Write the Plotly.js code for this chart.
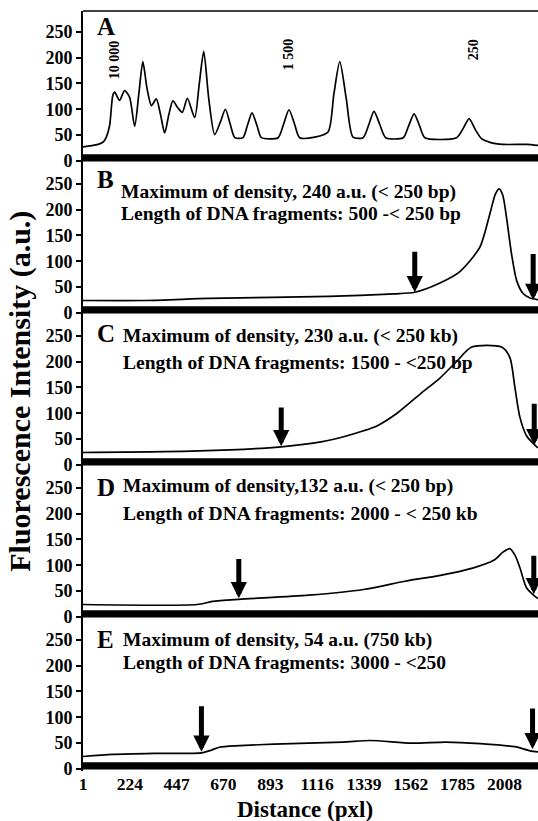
<!DOCTYPE html>
<html>
<head>
<meta charset="utf-8">
<script src="https://cdn.plot.ly/plotly-3.0.1.min.js"></script>
<style>html,body{margin:0;padding:0;background:#fff;}</style>
</head>
<body>
<div id="chart" style="width:538px;height:821px;"></div>
<script>
// ---- data ----
const xTickVals = [1, 224, 447, 670, 893, 1116, 1339, 1562, 1785, 2008];
const yTickVals = [0, 50, 100, 150, 200, 250];

const aX = [1, 50, 80, 100, 112, 128, 143, 152, 175, 199, 223, 247, 267, 286, 306, 327, 350, 370, 390, 410, 429, 452, 474, 498, 533, 555, 576, 600, 628, 655, 679, 703, 724, 763, 785, 806, 830, 851, 930, 957, 982, 1008, 1033, 1105, 1168, 1196, 1224, 1255, 1287, 1335, 1362, 1387, 1415, 1443, 1526, 1552, 1578, 1604, 1629, 1780, 1812, 1840, 1870, 1899, 1939, 2002, 2114, 2168];
const aY = [27, 30, 33, 38, 46, 69, 127, 133, 117, 136, 123, 67, 130, 192, 140, 107, 120, 90, 54, 90, 116, 103, 94, 121, 84, 150, 212, 120, 51, 75, 100, 70, 45, 45, 70, 93, 68, 45, 45, 72, 99, 72, 45, 46, 56, 130, 192, 120, 46, 45, 70, 96, 70, 45, 45, 68, 91, 68, 45, 45, 63, 82, 60, 43, 36, 32, 32, 30];

const bX = [1, 300, 600, 900, 1172, 1484, 1581, 1701, 1796, 1891, 1939, 1965, 1983, 2000, 2018, 2042, 2066, 2098, 2130, 2162, 2168];
const bY = [24, 24, 28, 30, 32, 37, 40, 58, 80, 127, 192, 230, 240, 228, 185, 114, 63, 37, 29, 26, 25];

const cX = [1, 552, 945, 1141, 1238, 1337, 1403, 1500, 1615, 1701, 1780, 1852, 1995, 2034, 2058, 2082, 2114, 2162, 2168];
const cY = [24, 27, 35, 45, 54, 66, 76, 101, 140, 168, 200, 228, 228, 208, 150, 92, 56, 35, 33];

const dX = [1, 544, 618, 743, 1076, 1337, 1534, 1697, 1861, 1959, 2000, 2034, 2060, 2082, 2114, 2162, 2168];
const dY = [24, 24, 30, 34, 42, 53, 69, 80, 95, 110, 125, 132, 118, 95, 56, 37, 36];

const eX = [1, 142, 337, 565, 610, 650, 747, 912, 1238, 1370, 1566, 1729, 1893, 2057, 2130, 2168];
const eY = [24, 28, 30, 31, 36, 42, 45, 48, 52, 55, 50, 52, 49, 43, 35, 33];

// arrows: [x, tip value, tail value]
const arrowsB = [[1581, 40, 121], [2145, 25, 117]];
const arrowsC = [[945, 36, 114], [2150, 38, 121]];
const arrowsD = [[743, 36, 115], [2148, 44, 121]];
const arrowsE = [[565, 33, 124], [2142, 38, 120]];

const panelLetters = ['A', 'B', 'C', 'D', 'E'];
const line1Texts = [null,
  'Maximum of density, 240 a.u. (&lt; 250 bp)',
  'Maximum of density, 230 a.u. (&lt; 250 kb)',
  'Maximum of density,132 a.u. (&lt; 250 bp)',
  'Maximum of density, 54 a.u. (750 kb)'];
const line2Texts = [null,
  'Length of DNA fragments: 500 -&lt; 250 bp',
  'Length of DNA fragments: 1500 - &lt;250 bp',
  'Length of DNA fragments: 2000 - &lt; 250 kb',
  'Length of DNA fragments: 3000 - &lt;250'];
const markerLabels = ['10 000', '1 500', '250'];
const markerLabelX = [152, 977, 1858];
const markerLabelY = [196, 206, 216];

const yTitle = 'Fluorescence Intensity (a.u.)';
const xTitle = 'Distance (pxl)';

// ---- layout / style ----
const FONT = 'Liberation Serif, Times New Roman, serif';
const xs = [aX, bX, cX, dX, eX];
const ys = [aY, bY, cY, dY, eY];
const arrowSets = [[], arrowsB, arrowsC, arrowsD, arrowsE];
const letterY = [260, 258, 255, 251, 251];
const line1Y = [0, 233, 249, 253, 250];
const line2Y = [0, 192, 198, 201, 206];
const textX = [0, 173, 184, 184, 184];
const XR = [1, 2168];
const YR = [-4, 290];

const traces = [];
const layout = {
  width: 538, height: 821,
  margin: {l: 83, r: 0, t: 11, b: 50},
  paper_bgcolor: '#fff', plot_bgcolor: '#fff',
  showlegend: false,
  font: {family: FONT, color: '#000', size: 16, weight: 700},
  shapes: [], annotations: []
};

for (let i = 0; i < 5; i++) {
  const n = i === 0 ? '' : String(i + 1);
  const xa = 'x' + n, ya = 'y' + n;
  traces.push({
    x: xs[i], y: ys[i], xaxis: xa, yaxis: ya,
    type: 'scatter', mode: 'lines',
    line: {color: '#000', width: 1.7, shape: 'spline', smoothing: 0.7},
    hoverinfo: 'skip'
  });
  const top = 1 - i * 0.2, bot = top - 0.2;
  layout['xaxis' + n] = {
    domain: [0, 1], anchor: ya, range: XR,
    showgrid: false, zeroline: false, showline: false, ticks: '',
    tickvals: xTickVals, showticklabels: i === 4,
    tickfont: {family: FONT, size: 17.5, color: '#000', weight: 700}
  };
  layout['yaxis' + n] = {
    domain: [bot, top], anchor: xa, range: YR,
    showgrid: false, zeroline: false,
    showline: true, linecolor: '#000', linewidth: 2,
    ticks: 'outside', ticklen: 5, tickwidth: 2, tickcolor: '#000',
    tickvals: yTickVals,
    tickfont: {family: FONT, size: 18, color: '#000', weight: 700}
  };
  // thick baseline bar
  layout.shapes.push({type: 'rect', xref: 'paper', yref: ya, x0: 0, x1: 1, y0: -1, y1: 13,
    fillcolor: '#000', line: {width: 0}});
  // panel letter
  layout.annotations.push({xref: xa, yref: ya, x: 56, y: letterY[i], xanchor: 'left', yanchor: 'middle',
    text: panelLetters[i], showarrow: false, font: {family: FONT, size: 25, color: '#000', weight: 700}});
  if (i > 0) {
    layout.annotations.push({xref: xa, yref: ya, x: textX[i], y: line1Y[i], xanchor: 'left', yanchor: 'middle',
      text: line1Texts[i], showarrow: false, font: {family: FONT, size: 19.5, color: '#000', weight: 700}});
    layout.annotations.push({xref: xa, yref: ya, x: textX[i], y: line2Y[i], xanchor: 'left', yanchor: 'middle',
      text: line2Texts[i], showarrow: false, font: {family: FONT, size: 19.5, color: '#000', weight: 700}});
  }
  arrowSets[i].forEach(a => {
    layout.annotations.push({xref: xa, yref: ya, x: a[0], y: a[1], axref: xa, ayref: ya, ax: a[0], ay: a[2],
      text: '', showarrow: true, arrowhead: 2, arrowwidth: 5, arrowsize: 0.65, arrowcolor: '#000', standoff: 0});
  });
}
// top frame line
layout.shapes.push({type: 'line', xref: 'paper', yref: 'paper', x0: 0, x1: 1, y0: 1, y1: 1,
  line: {color: '#000', width: 1.5}});
// marker size labels in panel A
markerLabels.forEach((t, k) => {
  layout.annotations.push({xref: 'x', yref: 'y', x: markerLabelX[k], y: markerLabelY[k], textangle: -90,
    xanchor: 'center', yanchor: 'middle',
    text: t, showarrow: false, font: {family: FONT, size: 14, color: '#000', weight: 700}});
});
// axis titles
layout.annotations.push({xref: 'paper', yref: 'paper', x: -0.139, y: 0.5, textangle: -90,
  xanchor: 'center', yanchor: 'middle', text: yTitle, showarrow: false,
  font: {family: FONT, size: 30, color: '#000', weight: 700}});
layout.annotations.push({xref: 'paper', yref: 'paper', x: 0.488, y: -0.051,
  xanchor: 'center', yanchor: 'middle', text: xTitle, showarrow: false,
  font: {family: FONT, size: 23, color: '#000', weight: 700}});

Plotly.newPlot('chart', traces, layout, {staticPlot: true, displayModeBar: false});
</script>
</body>
</html>
